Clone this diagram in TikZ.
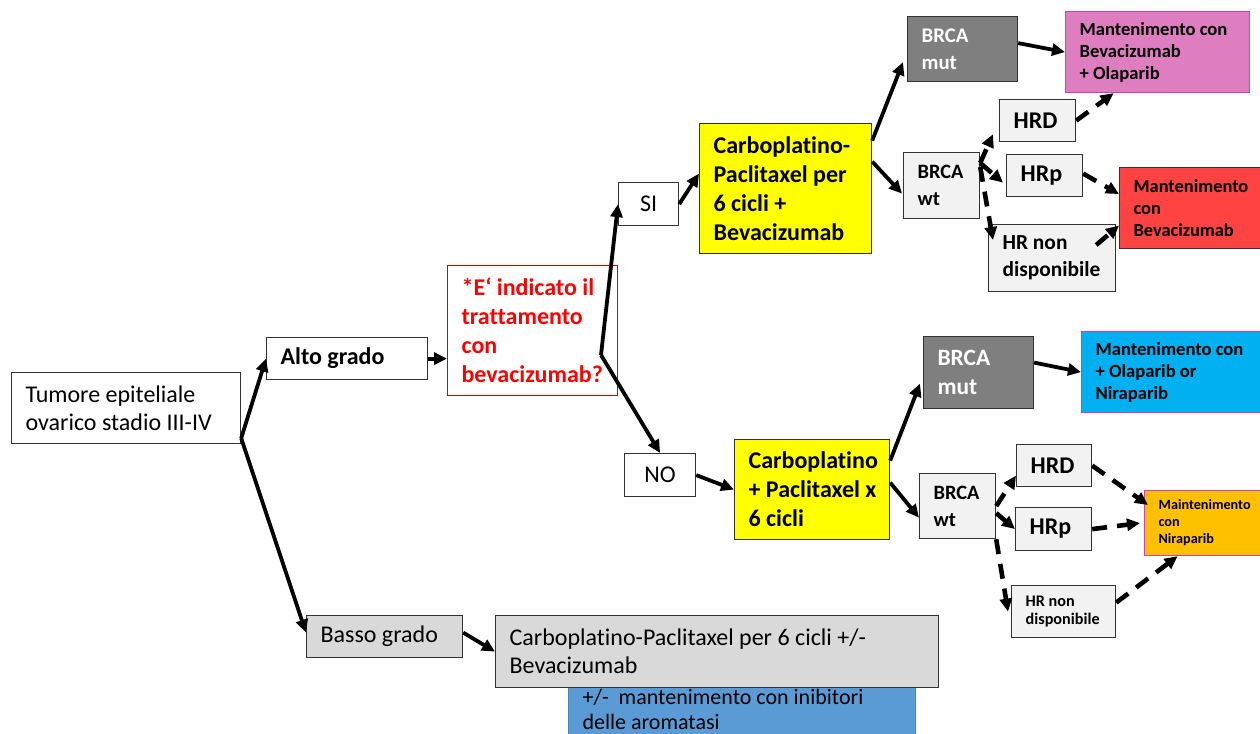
\documentclass[tikz,border=0pt]{standalone}
\usepackage{fontspec}
\setmainfont{Carlito}[Ligatures=NoCommon]
\usetikzlibrary{arrows.meta}
\definecolor{cyel}{RGB}{255,255,0}
\definecolor{cdark}{RGB}{127,127,127}
\definecolor{clight}{RGB}{242,242,242}
\definecolor{cmid}{RGB}{217,217,217}
\definecolor{cpink}{RGB}{222,126,192}
\definecolor{cred}{RGB}{255,66,66}
\definecolor{cblue}{RGB}{0,176,240}
\definecolor{corange}{RGB}{255,192,0}
\definecolor{csteel}{RGB}{91,155,213}
\definecolor{cmag}{RGB}{214,56,190}
\definecolor{cqred}{RGB}{255,0,0}
\tikzset{
  box/.style 2 args={draw=black!80,line width=0.6pt,anchor=north west,inner sep=0pt,align=left,
    minimum width=#1*0.5pt,minimum height=#2*0.5pt,text width=#1*0.5pt-14pt,
    execute at begin node={\spaceskip=0pt\xspaceskip=0pt\rightskip=0pt plus 1fil minus 40pt\relax}},
  midbox/.style 2 args={box={#1}{#2},text width={},align=center},
  fs/.style 2 args={font=\fontsize{#1}{#2}\selectfont},
  bfs/.style 2 args={font=\bfseries\fontsize{#1}{#2}\selectfont},
  arr/.style={line width=1.9pt,-{Triangle[length=6.5pt,width=6pt]}},
  darr/.style={arr,line width=2.3pt,dash pattern=on 7.5pt off 5pt}
}
\begin{document}
\begin{tikzpicture}[x=0.5pt,y=-0.5pt]
  \useasboundingbox[fill=white] (0,0) rectangle (1260,734);
  \node[box={229}{71},fs={12}{14}] (tum) at (11,372) {Tumore epiteliale\\ovarico stadio III-IV};
  \node[box={161}{42},bfs={12}{14}] (alto) at (266,337) {Alto grado};
  \node[box={170}{130},draw=cqred!85!black,bfs={12}{14.5},text=cqred] (bev) at (447,265) {*E‘ indicato il\\trattamento\\con\\bevacizumab?};
  \node[midbox={60}{43},fs={12}{14}] (si) at (618,182) {SI};
  \node[midbox={71}{43},fs={12}{14}] (no) at (624,453) {NO};
  \node[box={172}{130},fill=cyel,bfs={12}{14.5}] (cpA) at (699,123) {Carboplatino-\\Paclitaxel per\\6 cicli +\\Bevacizumab};
  \node[box={155}{100},fill=cyel,bfs={12}{14.5}] (cpB) at (734,439) {Carboplatino\\+ Paclitaxel x\\6 cicli};
  \node[box={110}{65},fill=cdark,text=white,bfs={10.4}{13.5}] (mutA) at (907,16) {BRCA\\mut};
  \node[box={184}{81},fill=cpink,draw=cmag,bfs={9.3}{11}] (olap) at (1065,11) {Mantenimento con\\Bevacizumab\\+ Olaparib};
  \node[box={76}{42},fill=clight,bfs={12}{14}] (hrdA) at (999,99) {HRD};
  \node[box={76}{66},fill=clight,bfs={10.2}{13.5}] (wtA) at (903,152) {BRCA\\wt};
  \node[box={76}{42},fill=clight,bfs={12}{14}] (hrpA) at (1006,154) {HRp};
  \node[box={142}{81},fill=cred,bfs={9.2}{11}] (beva) at (1119,167) {Mantenimento\\con\\Bevacizumab};
  \node[box={127}{67},fill=clight,bfs={10.7}{13.5}] (hrnA) at (988,224) {HR non\\disponibile};
  \node[box={110}{72},fill=cdark,text=white,bfs={11.7}{14.5}] (mutB) at (923,336) {BRCA\\mut};
  \node[box={182}{81},fill=cblue,draw=cmag,bfs={9.3}{11}] (olnir) at (1081,331) {Mantenimento con\\+ Olaparib or\\Niraparib};
  \node[box={75}{42},fill=clight,bfs={12}{14}] (hrdB) at (1016,444) {HRD};
  \node[box={76}{65},fill=clight,bfs={10.2}{13.5}] (wtB) at (919,473) {BRCA\\wt};
  \node[box={76}{43},fill=clight,bfs={12}{14}] (hrpB) at (1015,507) {HRp};
  \node[box={120}{65},fill=corange,draw=cmag,bfs={7.1}{8.5}] (nira) at (1144,490) {Maintenimento\\con\\Niraparib};
  \node[box={104}{52},fill=clight,bfs={8.1}{9}] (hrnB) at (1011,585) {HR non\\disponibile};
  \node[box={156}{42},fill=cmid,fs={12}{14}] (basso) at (306,615) {Basso grado};
  \node[box={347}{0},fill=csteel,draw=csteel!85!black,fs={11}{12.5},inner ysep=1.5pt,text depth=30pt] (arom) at (568,686) {+/-\ \ mantenimento con inibitori\\delle aromatasi};
  \node[box={443}{72},fill=cmid,fs={12}{14}] (cpC) at (495,615) {Carboplatino-Paclitaxel per 6 cicli +/-\\Bevacizumab};
  \coordinate (fork) at (601,355);
  \draw[arr] ([yshift=3pt]tum.south east) -- (alto.west);
  \draw[arr] ([yshift=3pt]tum.south east) -- ([yshift=2pt]basso.west);
  \draw[arr] (alto.east) -- (alto.east -| bev.west);
  \draw[arr] (fork) -- (si.west);
  \draw[arr] (fork) -- (no.north);
  \draw[arr] (si.east) -- ([yshift=7.5pt]cpA.west);
  \draw[arr] (no.east) -- (cpB.west);
  \draw[arr] ([yshift=24pt]cpA.east) -- ([shift={(-2pt,-6.5pt)}]mutA.west);
  \draw[arr] ([yshift=13.5pt]cpA.east) -- ([shift={(-0.5pt,-4pt)}]wtA.west);
  \draw[arr] ([yshift=3pt]mutA.east) -- (olap.west);
  \draw[darr] ([yshift=-5.5pt]wtA.north east) -- ([shift={(-3pt,4pt)}]hrdA.south west);
  \draw[darr] ([yshift=-5.5pt]wtA.north east) -- ([shift={(-1.5pt,-3.5pt)}]hrpA.west);
  \draw[darr] ([yshift=-7.5pt]wtA.north east) -- ([shift={(2.5pt,-8pt)}]hrnA.north west);
  \draw[darr] (hrdA.east) -- ([xshift=-22pt]olap.south);
  \draw[darr] ([yshift=1pt]hrpA.east) -- ([yshift=7pt]beva.west);
  \draw[darr] ([shift={(-10pt,-10.5pt)}]hrnA.north east) -- ([yshift=-8.75pt]beva.west);
  \draw[arr] ([yshift=14.5pt]cpB.east) -- ([shift={(-1.5pt,-5.5pt)}]mutB.west);
  \draw[arr] ([yshift=3.5pt]cpB.east) -- ([yshift=-5.75pt]wtB.west);
  \draw[arr] ([yshift=5pt]mutB.east) -- (olnir.west);
  \draw[darr] (wtB.east) -- ([yshift=-5pt]hrdB.west);
  \draw[darr] ([yshift=-3.5pt]wtB.east) -- (hrpB.west);
  \draw[darr] (wtB.south east) -- ([xshift=-1.5pt]hrnB.west);
  \draw[darr] (hrdB.east) -- ([shift={(2pt,-7.5pt)}]nira.north west);
  \draw[darr] (hrpB.east) -- ([xshift=-2pt]nira.west);
  \draw[darr] ([yshift=4.5pt]hrnB.east) -- ([xshift=-13.5pt]nira.south);
  \draw[arr] ([yshift=2pt]basso.east) -- (cpC.west);
\end{tikzpicture}
\end{document}
